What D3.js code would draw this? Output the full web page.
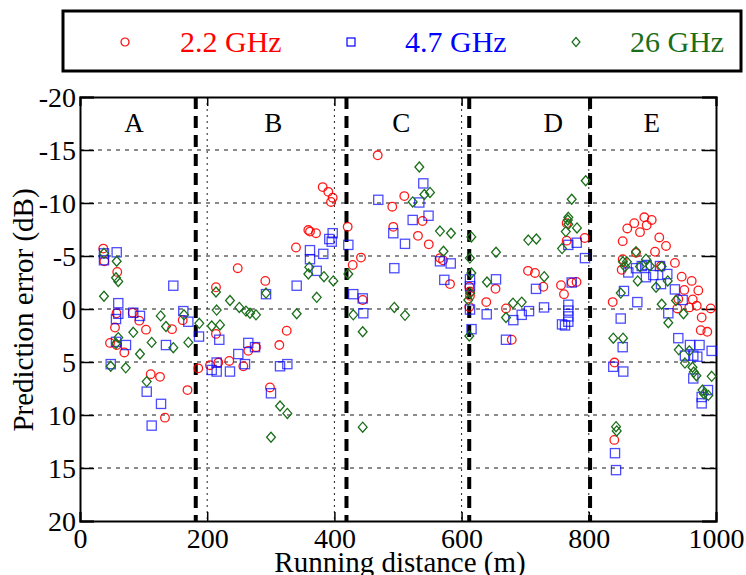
<!DOCTYPE html>
<html>
<head>
<meta charset="utf-8">
<script src="https://cdn.jsdelivr.net/npm/d3@7"></script>
<style>
  body { margin: 0; background: #fff; }
  svg { font-family: "Liberation Serif", "Times New Roman", serif; }
</style>
</head>
<body>
<svg id="chart" width="746" height="575"></svg>
<script>
// series: [running distance (m), prediction error (dB)]
var ghz22 = [
  [36.6,-5.7],[38.2,-4.5],[58.6,-3.5],[57.4,0.4],[55,1.75],[47.2,3.2],[57.7,3.4],[69.7,4.1],
  [82.9,0.35],[93.2,1.1],[103.8,1.95],[111.2,6.15],[125.8,6.4],[133.6,10.25],[144.7,1.9],
  [161.5,1.05],[169,7.65],[186,5.6],
  [213.8,-2.05],[291.4,-2.65],[248,-3.85],[339.6,-5.8],[359,-7.45],[361.6,-7.3],[371.1,-7.15],
  [381.6,-11.5],[390.4,-11.05],[397.3,-10.5],[394.7,-10.1],[213.8,2.35],[204.4,5.3],[217.5,5.05],
  [234.7,4.9],[256.8,5.4],[264.6,3.95],[276.7,3.6],[313.4,3.4],[325,2.05],[298.7,7.4],
  [420.9,-7.75],[428.8,-4.15],[441.8,-4.85],[444.5,-0.85],[468.1,-14.5],[491,-9.65],[509.9,-10.65],
  [492.6,-7.75],[538.5,-8.3],[531.4,-6.9],[548.4,-6.1],[566,-4.8],[570.8,-4.6],[581.8,-2.35],
  [612.1,-2.1],[613.2,-1.65],[613.2,-1.25],[612.1,-0.2],[638.8,-0.65],[653.3,-1.9],[669.8,-0.05],
  [678.8,2.9],[704.4,-3.6],[715.4,-3.4],[728.5,-2.1],[756.3,-2.25],[761,-1.4],[773.1,-2.5],
  [780.7,-2.55],[765.2,-6.45],[793.6,-6.7],[765.2,-8.1],
  [837.6,-0.65],[840.4,5.05],[840.1,12.35],[853.3,-6.4],[853.3,-4.7],[851.7,-3.7],[860.5,-7.6],
  [871.5,-8.1],[880.5,-7.25],[887.3,-8.65],[891,-7.9],[898.9,-8.4],[874.2,-5.3],[904.1,-5.4],
  [910.8,-6.75],[921.4,-5.95],[913.5,-4.05],[935.4,-4.35],[946.1,-3.05],[961.8,-2.65],[950.2,-1.8],
  [972.2,-1.75],[963.4,-0.9],[940.7,-0.95],[939.2,-0.05],[958,-0.15],[969.7,-0.3],[991.7,-0.05],
  [977.5,0.8],[976,2.0],[986.3,2.15]
];
var ghz47 = [
  [37.7,-5.25],[37.7,-4.6],[57.7,-5.35],[146.7,-2.2],[60.2,-0.55],[60.2,0.45],[56.6,0.95],[83.8,0.35],
  [94.3,0.65],[162.4,0.2],[170.3,1.2],[187.1,2.6],[56.6,3.1],[72.3,3.4],[135.2,3.4],[48.3,5.2],
  [104.9,7.8],[127.4,8.95],[112.7,11.0],
  [219,2.9],[207.1,5.75],[214.9,5.05],[214.9,5.9],[235.8,5.9],[248.9,4.25],[264.6,3.2],[275.2,3.6],
  [259.4,5.2],[314.5,5.4],[326,5.2],[300.3,7.95],[292.5,-1.4],[340.7,-2.2],[372.2,-3.6],[361.6,-4.7],
  [382.5,-5.2],[361.6,-5.55],[397.3,-7.15],[392,-6.6],[395.8,-6.35],
  [421.9,-6.05],[429.7,-1.4],[444.5,-1.0],[445.4,0.4],[469,-10.3],[539.8,-11.85],[533.5,-10.05],
  [523.1,-8.4],[548,-8.8],[492.6,-7.15],[511,-6.15],[494.2,-3.85],[566,-4.5],[582.9,-4.3],[572.8,-2.75],
  [613.2,-2.8],[613.2,-2.15],[613.2,0.05],[615.6,1.9],[654.1,-2.8],[639.5,0.5],[669.8,2.9],[717,-1.9],
  [729.6,-0.15],[706,0.2],[694.5,0.55],[681.3,1.05],[767.8,-0.4],[767.8,0.15],[767.8,0.7],[767.8,1.2],
  [757.9,1.45],[762.6,1.55],[781,-6.25],[767.8,-6.05],[794,-4.8],[773.1,-2.5],
  [862.1,-3.45],[874.2,-3.85],[883.2,-4.05],[891,-4.15],[889.9,-3.0],[901.4,-3.2],[911.9,-4.05],
  [923.4,-3.3],[913.5,-2.35],[935.4,-1.85],[947.6,-0.85],[855.3,-1.7],[876.3,-0.65],[925,0.4],
  [850.2,0.9],[940.7,2.75],[959.1,3.4],[974.1,3.4],[993.2,3.95],[853.3,3.6],[951.2,4.4],[964.3,4.4],
  [970.6,4.5],[838.5,5.45],[854.2,5.9],[964.3,6.55],[987.4,7.65],[977.5,8.3],[977.5,8.9],
  [841.2,13.6],[842.8,15.2]
];
var ghz26 = [
  [37.7,-5.25],[57.7,-4.5],[56.6,-2.95],[60.2,-2.6],[37.7,-1.2],[126.9,0.65],[135.2,1.65],[83.8,2.2],
  [146.7,3.65],[112.7,3.15],[170.3,3.15],[60.2,2.7],[56.6,3.25],[94.3,4.25],[48.3,5.4],[71.9,5.55],
  [104.9,6.85],[187.6,1.35],[163.5,0.55],
  [213.8,-1.6],[214.9,0.1],[235.8,-0.8],[250.5,-0.15],[261,0.2],[267.3,0.4],[276.7,0.55],[292.5,-1.5],
  [340.7,0.45],[360.5,-3.95],[359,-3.3],[383.6,-3.05],[398.3,-2.65],[372.2,-1.1],[207.1,1.6],[220.1,1.5],
  [314.5,9.15],[326,9.85],[300.3,12.1],
  [421.9,-3.3],[429.7,0.55],[444.5,2.15],[444.5,11.15],[533.5,-13.4],[541.4,-10.8],[523.1,-10.1],
  [550.3,-11.0],[494.2,-0.15],[511,0.6],[566,-7.35],[583.3,-7.15],[571.5,-5.45],
  [615.3,-6.8],[613,-4.8],[615.3,-3.4],[613.7,-1.5],[610.5,-0.85],[612.1,2.55],[639.9,-2.55],
  [654.1,-5.35],[704.9,-6.5],[717.5,-6.6],[729.9,-3.05],[680.8,-0.55],[694.5,-0.65],[669.8,0.8],
  [757.9,-5.7],[763.8,-7.3],[767.8,-8.65],[767,-8.4],[767.8,-8.0],[781.4,-7.65],[773.1,-10.35],
  [795.1,-12.1],
  [874.2,-5.4],[853.6,-4.45],[859.9,-4.45],[889.9,-4.7],[856.9,-4.0],[880.5,-4.0],[896.2,-4.05],
  [914.6,-4.0],[905.7,-2.05],[876.9,-2.65],[924.1,-2.65],[850.2,-1.5],[914.6,-0.45],[937.1,-0.8],
  [948.9,0.45],[925,1.3],[838.5,2.75],[853.8,2.75],[941.5,3.85],[958,3.95],[951.2,5.1],[963,5.5],
  [965.1,5.95],[969.2,6.3],[993.2,6.35],[978.8,7.65],[981.1,8.0],[987.9,8.15],[842.8,11.1],[843.9,11.5]
];

var xTicks = [0, 200, 400, 600, 800, 1000];
var yTicks = [-20, -15, -10, -5, 0, 5, 10, 15, 20];
var boundaries = [182, 419, 612, 802];
var regionNames = ["A", "B", "C", "D", "E"];
var regionPos = [85, 304, 505, 744, 899];
var seriesNames = ["2.2 GHz", "4.7 GHz", "26 GHz"];

var red = "#ff0000", blue = "#0000ff", green = "#1a6e1a";

var svg = d3.select("#chart");
var pl = 80, pr = 716, pt = 97, pb = 521;

var x = d3.scaleLinear().domain([0, 1000]).range([pl, pr]);
var y = d3.scaleLinear().domain([-20, 20]).range([pt, pb]);

// grid
svg.append("g").selectAll("line").data(yTicks.slice(1, -1)).enter().append("line")
  .attr("x1", pl).attr("x2", pr)
  .attr("y1", function (d) { return y(d); }).attr("y2", function (d) { return y(d); })
  .attr("stroke", "#666").attr("stroke-width", 1.5).attr("stroke-dasharray", "4,5");
svg.append("g").selectAll("line").data(xTicks.slice(1, -1)).enter().append("line")
  .attr("y1", pt).attr("y2", pb)
  .attr("x1", function (d) { return x(d); }).attr("x2", function (d) { return x(d); })
  .attr("stroke", "#222").attr("stroke-width", 1).attr("stroke-dasharray", "2,4");

// axes with inward ticks, plain hyphen for negatives
var fmt = function (d) { return String(d); };
var yAxis = d3.axisLeft(y).tickValues(yTicks).tickSize(-14).tickPadding(4).tickFormat(fmt);
var xAxis = d3.axisBottom(x).tickValues(xTicks).tickSize(-9).tickPadding(8).tickFormat(fmt);

var gy = svg.append("g").attr("transform", "translate(" + pl + ",0)").call(yAxis);
svg.append("g").attr("transform", "translate(" + pr + ",0)")
  .call(d3.axisRight(y).tickValues(yTicks).tickSize(-14).tickFormat(""));
var gx = svg.append("g").attr("transform", "translate(0," + pb + ")").call(xAxis);
svg.append("g").attr("transform", "translate(0," + pt + ")")
  .call(d3.axisTop(x).tickValues(xTicks).tickSize(-9).tickFormat(""));

svg.selectAll(".domain").attr("stroke", "#000").attr("stroke-width", 2);
svg.selectAll(".tick line").attr("stroke", "#000").attr("stroke-width", 1.5);
svg.selectAll(".tick text").attr("font-size", 28).attr("fill", "#000")
  .attr("font-family", "Liberation Serif");
gy.selectAll(".tick text").attr("dy", "0.34em");
gx.selectAll(".tick text").attr("dy", "0.68em");

// region boundaries
svg.append("g").selectAll("line").data(boundaries).enter().append("line")
  .attr("x1", function (d) { return x(d); }).attr("x2", function (d) { return x(d); })
  .attr("y1", pt).attr("y2", pb)
  .attr("stroke", "#000").attr("stroke-width", 4).attr("stroke-dasharray", "12,7");

svg.append("g").selectAll("text").data(regionNames).enter().append("text")
  .attr("x", function (d, i) { return x(regionPos[i]); })
  .attr("y", 132).attr("text-anchor", "middle").attr("font-size", 27)
  .text(function (d) { return d; });

// markers
var sym = {
  circle: function (g) { g.append("circle").attr("r", 4.3); },
  square: function (g) { g.append("rect").attr("x", -4.6).attr("y", -4.6).attr("width", 9.2).attr("height", 9.2); },
  diamond: function (g) { g.append("path").attr("d", "M0,-5L4.4,0L0,5L-4.4,0Z"); }
};

function drawSeries(data, shape, color, opacity) {
  svg.append("g").selectAll("g").data(data).enter().append("g")
    .attr("transform", function (d) { return "translate(" + x(d[0]) + "," + y(d[1]) + ")"; })
    .each(function () { sym[shape](d3.select(this)); })
    .selectAll("*").attr("fill", "none").attr("stroke", color)
    .attr("stroke-width", 1.3).attr("stroke-opacity", opacity);
}
drawSeries(ghz22, "circle", red, 0.9);
drawSeries(ghz47, "square", blue, 0.7);
drawSeries(ghz26, "diamond", green, 1);

// axis titles
svg.append("text").attr("x", (pl + pr) / 2 + 2).attr("y", 572)
  .attr("text-anchor", "middle").attr("font-size", 29).text("Running distance (m)");
svg.append("text").attr("transform", "translate(33," + ((pt + pb) / 2 + 1) + ") rotate(-90)")
  .attr("text-anchor", "middle").attr("font-size", 29).text("Prediction error (dB)");

// legend
svg.append("rect").attr("x", 63).attr("y", 11).attr("width", 678).attr("height", 60)
  .attr("fill", "#fff").attr("stroke", "#000").attr("stroke-width", 3);
var legendMarkX = [125, 351, 576];
var legendTextX = [180, 405, 630];
var legendShapes = ["circle", "square", "diamond"];
var legendColors = [red, blue, green];
seriesNames.forEach(function (name, i) {
  var g = svg.append("g").attr("transform", "translate(" + legendMarkX[i] + ",42)");
  if (legendShapes[i] === "circle") g.append("circle").attr("r", 4);
  else if (legendShapes[i] === "square") g.append("rect").attr("x", -4).attr("y", -4).attr("width", 8).attr("height", 8);
  else g.append("path").attr("d", "M0,-4.5L4,0L0,4.5L-4,0Z");
  g.selectAll("*").attr("fill", "none").attr("stroke", legendColors[i]).attr("stroke-width", 1.2);
  svg.append("text").attr("x", legendTextX[i]).attr("y", 52).attr("font-size", 30)
    .attr("fill", legendColors[i]).text(name);
});
</script>
</body>
</html>
